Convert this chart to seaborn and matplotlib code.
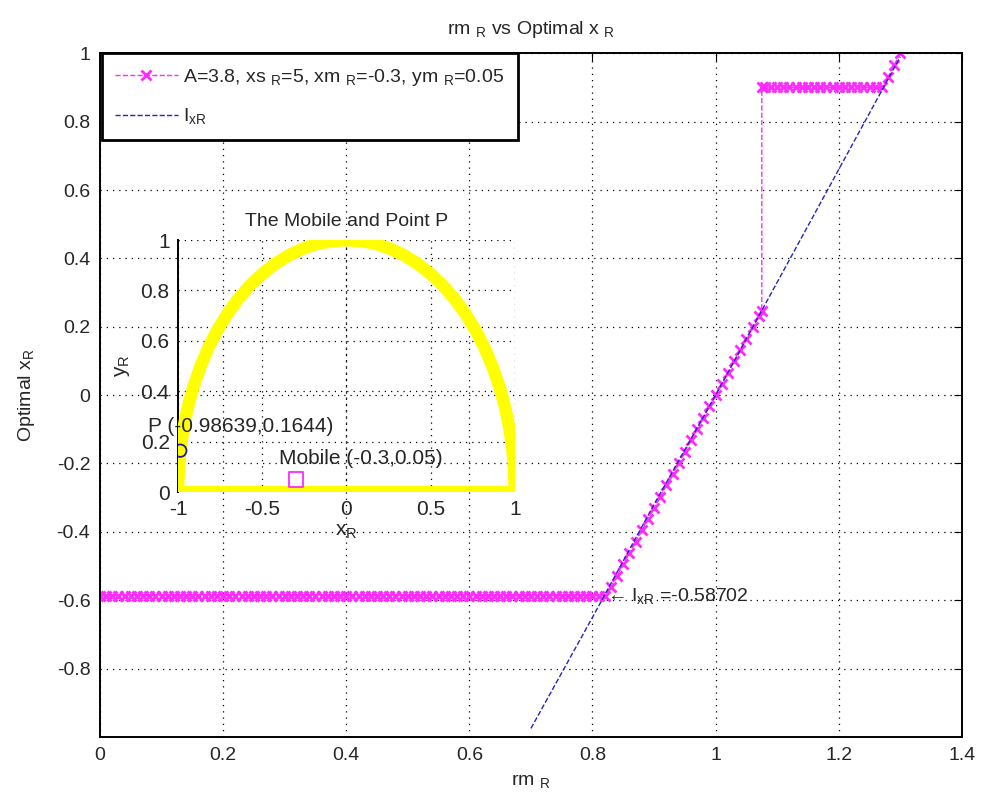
import matplotlib
matplotlib.use('Agg')
import matplotlib.pyplot as plt
import seaborn as sns

sns.set_style('white')
plt.rcParams['font.family'] = ['Liberation Sans', 'DejaVu Sans']
plt.rcParams['mathtext.default'] = 'regular'

# optimal x_R for each rm_R  (A=3.8, xs_R=5, xm_R=-0.3, ym_R=0.05)
rm_opt = [
    0.00, 0.01, 0.02, 0.03, 0.04, 0.05, 0.06, 0.07, 0.08, 0.09,
    0.10, 0.11, 0.12, 0.13, 0.14, 0.15, 0.16, 0.17, 0.18, 0.19,
    0.20, 0.21, 0.22, 0.23, 0.24, 0.25, 0.26, 0.27, 0.28, 0.29,
    0.30, 0.31, 0.32, 0.33, 0.34, 0.35, 0.36, 0.37, 0.38, 0.39,
    0.40, 0.41, 0.42, 0.43, 0.44, 0.45, 0.46, 0.47, 0.48, 0.49,
    0.50, 0.51, 0.52, 0.53, 0.54, 0.55, 0.56, 0.57, 0.58, 0.59,
    0.60, 0.61, 0.62, 0.63, 0.64, 0.65, 0.66, 0.67, 0.68, 0.69,
    0.70, 0.71, 0.72, 0.73, 0.74, 0.75, 0.76, 0.77, 0.78, 0.79,
    0.80, 0.81, 0.82,
    0.83, 0.84, 0.85, 0.86, 0.87, 0.88, 0.89, 0.90, 0.91, 0.92,
    0.93, 0.94, 0.95, 0.96, 0.97, 0.98, 0.99, 1.00, 1.01, 1.02,
    1.03, 1.04, 1.05, 1.06, 1.07, 1.075, 1.075,
    1.08, 1.09, 1.10, 1.11, 1.12, 1.13, 1.14, 1.15, 1.16, 1.17,
    1.18, 1.19, 1.20, 1.21, 1.22, 1.23, 1.24, 1.25, 1.26, 1.27,
    1.28, 1.29, 1.30,
]
xr_opt = (
    [-0.587] * 83
    + [-0.561, -0.528, -0.495, -0.462, -0.429, -0.396, -0.363, -0.330,
       -0.297, -0.264, -0.231, -0.198, -0.165, -0.132, -0.099, -0.066,
       -0.033, 0.000, 0.033, 0.066, 0.099, 0.132, 0.165, 0.198, 0.231,
       0.245, 0.900]
    + [0.900] * 20
    + [0.930, 0.965, 1.000]
)

# I_xR line
rm_line = [0.70, 0.80, 0.90, 1.00, 1.10, 1.20, 1.30]
ixr_line = [-0.975, -0.65, -0.32, 0.0, 0.33, 0.66, 0.99]

x_ticks = [0, 0.2, 0.4, 0.6, 0.8, 1.0, 1.2, 1.4]
x_tick_labels = ['0', '0.2', '0.4', '0.6', '0.8', '1', '1.2', '1.4']
y_ticks = [-0.8, -0.6, -0.4, -0.2, 0, 0.2, 0.4, 0.6, 0.8, 1.0]
y_tick_labels = ['-0.8', '-0.6', '-0.4', '-0.2', '0', '0.2', '0.4', '0.6', '0.8', '1']

# inset: boundary of the unit half disc
arc_x = [1.000, 0.996, 0.985, 0.966, 0.940, 0.906, 0.866, 0.819, 0.766, 0.707,
         0.643, 0.574, 0.500, 0.423, 0.342, 0.259, 0.174, 0.087, 0.000,
         -0.087, -0.174, -0.259, -0.342, -0.423, -0.500, -0.574, -0.643, -0.707,
         -0.766, -0.819, -0.866, -0.906, -0.940, -0.966, -0.985, -0.996, -1.000,
         1.000]
arc_y = [0.000, 0.087, 0.174, 0.259, 0.342, 0.423, 0.500, 0.574, 0.643, 0.707,
         0.766, 0.819, 0.866, 0.906, 0.940, 0.966, 0.985, 0.996, 1.000,
         0.996, 0.985, 0.966, 0.940, 0.906, 0.866, 0.819, 0.766, 0.707,
         0.643, 0.574, 0.500, 0.423, 0.342, 0.259, 0.174, 0.087, 0.000,
         0.000]
mobile = (-0.3, 0.05)
point_p = (-0.98639, 0.1644)
in_x_ticks = [-1, -0.5, 0, 0.5, 1]
in_x_labels = ['-1', '-0.5', '0', '0.5', '1']
in_y_ticks = [0, 0.2, 0.4, 0.6, 0.8, 1]
in_y_labels = ['0', '0.2', '0.4', '0.6', '0.8', '1']

MAGENTA = '#ff2aff'
BLUE = '#2424c0'
FS = 14

fig = plt.figure(figsize=(9.85, 7.95), dpi=100)
ax = fig.add_axes([0.1015, 0.073, 0.875, 0.860])

sns.lineplot(x=rm_opt, y=xr_opt, sort=False, estimator=None, ax=ax,
             color=MAGENTA, linestyle='--', linewidth=1.0, marker='x',
             markersize=6.5, markeredgewidth=2.0, markeredgecolor=MAGENTA,
             label='A=3.8, xs $_R$=5, xm $_R$=-0.3, ym $_R$=0.05')
sns.lineplot(x=rm_line, y=ixr_line, sort=False, estimator=None, ax=ax,
             color=BLUE, linestyle='--', linewidth=1.0, label='I$_{xR}$')

ax.text(0.818, -0.587, r'$\leftarrow$I$_{xR}$ =-0.58702', fontsize=FS,
        va='center', ha='left')

ax.set_xlim(0, 1.4)
ax.set_ylim(-1, 1)
ax.set_xticks(x_ticks)
ax.set_xticklabels(x_tick_labels)
ax.set_yticks(y_ticks)
ax.set_yticklabels(y_tick_labels)
ax.tick_params(direction='in', top=True, right=True, length=6, labelsize=FS,
               color='black', pad=7)
ax.grid(True, linestyle=(0, (1, 4)), color='black', linewidth=0.9)
for s in ax.spines.values():
    s.set_color('black')
    s.set_linewidth(1.4)
ax.set_title('rm $_R$ vs Optimal x $_R$', fontsize=FS, pad=14)
ax.set_xlabel('rm $_R$', fontsize=FS, labelpad=6)
ax.set_ylabel('Optimal x$_R$', fontsize=FS, labelpad=14)

leg = ax.legend(loc='upper left', bbox_to_anchor=(0.002, 1.0), borderaxespad=0,
                fontsize=FS, frameon=True, fancybox=False, framealpha=1,
                edgecolor='black', handlelength=3.2, handletextpad=0.3,
                labelspacing=0.95, borderpad=0.7)
leg.get_frame().set_linewidth(2.0)

# inset axes
ins = fig.add_axes([0.1807, 0.381, 0.342, 0.317])
ins.patch.set_alpha(0)
sns.lineplot(x=arc_x, y=arc_y, sort=False, estimator=None, ax=ins,
             color='#ffff00', linewidth=9, solid_capstyle='round',
             solid_joinstyle='round', zorder=3)
sns.scatterplot(x=[mobile[0]], y=[mobile[1]], ax=ins, marker='s', s=110,
                facecolor='none', edgecolor=MAGENTA, linewidth=1.3, zorder=4)
sns.scatterplot(x=[point_p[0]], y=[point_p[1]], ax=ins, marker='o', s=80,
                facecolor='none', edgecolor='#1c1c9c', linewidth=1.3, zorder=4)
ins.text(-1.18, 0.26, 'P (-0.98639,0.1644)', fontsize=FS + 1, va='center', ha='left')
ins.text(-0.40, 0.135, 'Mobile (-0.3,0.05)', fontsize=FS + 1, va='center', ha='left')
ins.set_xlim(-1, 1)
ins.set_ylim(0, 1)
ins.set_xticks(in_x_ticks)
ins.set_xticklabels(in_x_labels)
ins.set_yticks(in_y_ticks)
ins.set_yticklabels(in_y_labels)
ins.tick_params(direction='in', length=0, labelsize=FS + 1, pad=6)
ins.grid(True, linestyle=(0, (1, 4)), color='black', linewidth=0.9)
for side in ['top', 'right', 'bottom']:
    ins.spines[side].set_visible(False)
ins.spines['left'].set_color('black')
ins.spines['left'].set_linewidth(1.4)
ins.set_title('The Mobile and Point P', fontsize=FS, pad=10)
ins.set_xlabel('x$_R$', fontsize=FS + 1, labelpad=2)
ins.set_ylabel('y$_R$', fontsize=FS + 1, labelpad=6)

plt.savefig('out.png', dpi=100)
